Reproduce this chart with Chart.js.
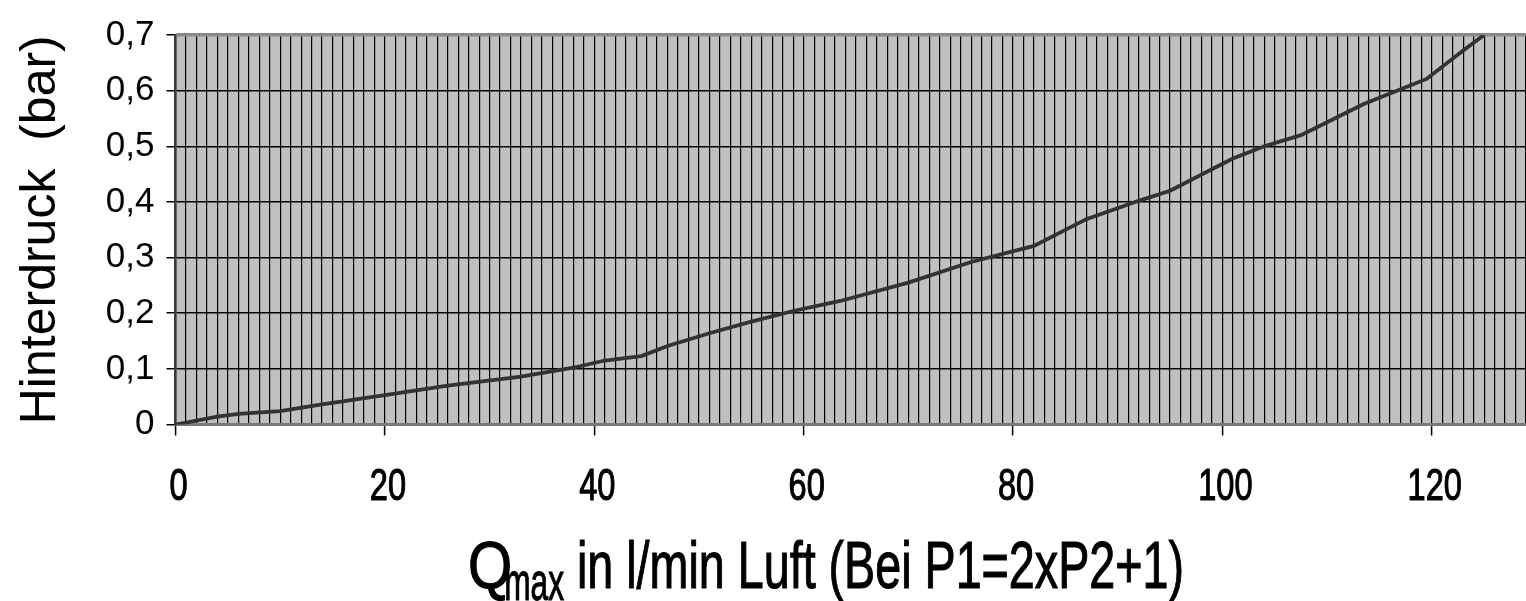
<!DOCTYPE html>
<html>
<head>
<meta charset="utf-8">
<script src="https://cdn.jsdelivr.net/npm/chart.js@4.4.1/dist/chart.umd.min.js"></script>
<style>
  html, body { margin: 0; padding: 0; background: #fff; }
  #wrap { width: 1526px; height: 601px; position: relative; }
</style>
</head>
<body>
<div id="wrap"><canvas id="hinterdruck"></canvas></div>
<script>
// Q max (l/min Luft) vs. Hinterdruck (bar)
const qValues = [0, 4, 6, 10, 14, 20, 26, 33, 38, 41, 44.5, 47, 51, 55, 59, 63.5, 70, 76, 82, 87, 92, 95, 101, 104, 107.5, 113.5, 119.5, 123, 125];
const pressure = [0, 0.014, 0.019, 0.024, 0.036, 0.053, 0.070, 0.086, 0.102, 0.115, 0.123, 0.141, 0.164, 0.185, 0.204, 0.222, 0.255, 0.292, 0.321, 0.369, 0.402, 0.420, 0.478, 0.500, 0.520, 0.576, 0.621, 0.672, 0.700];
const xLabelEvery = 20;
const yTitle = 'Hinterdruck  (bar)';
const xTitleParts = ['Q', 'max', ' in l/min Luft (Bei P1=2xP2+1)'];

const sans = '"Liberation Sans", Arial, sans-serif';

// grey plot background
const plotBg = {
  id: 'plotBg',
  beforeDraw(chart) {
    const { ctx, chartArea: a } = chart;
    ctx.save();
    ctx.fillStyle = '#c0c0c0';
    ctx.fillRect(a.left, a.top, a.right - a.left, a.bottom - a.top);
    ctx.restore();
  }
};

// squeezed text, a bit heavier like the scanned original
function squeezed(ctx, text, size, x, y, sx) {
  ctx.font = `${size}px ${sans}`;
  ctx.save();
  ctx.translate(x, y);
  ctx.scale(sx, 1);
  ctx.fillText(text, 0, 0);
  ctx.lineWidth = 1.1;
  ctx.strokeText(text, 0, 0);
  ctx.restore();
  return ctx.measureText(text).width * sx;
}

// x tick labels
const xLabels = {
  id: 'xLabels',
  afterDraw(chart) {
    const ctx = chart.ctx;
    const xs = chart.scales.x;
    ctx.save();
    ctx.fillStyle = '#000';
    ctx.strokeStyle = '#000';
    ctx.textAlign = 'center';
    ctx.textBaseline = 'alphabetic';
    xs.ticks.forEach(t => {
      if (t.value % xLabelEvery !== 0) return;
      squeezed(ctx, String(t.value), 44, xs.getPixelForValue(t.value) + 3, 500, 0.74);
    });
    ctx.restore();
  }
};

// x title with subscript
const xTitle = {
  id: 'xTitle',
  afterDraw(chart) {
    const ctx = chart.ctx;
    const F = 66;
    const left = 468, right = 1184, base = 588;
    ctx.save();
    ctx.fillStyle = '#000';
    ctx.strokeStyle = '#000';
    ctx.textBaseline = 'alphabetic';
    ctx.textAlign = 'left';
    let x = left;
    x += squeezed(ctx, xTitleParts[0], F, x, base, 0.86);
    x -= 8;
    x += squeezed(ctx, xTitleParts[1], 0.8 * F, x, base + 12, 0.6);
    ctx.font = `${F}px ${sans}`;
    const restW = ctx.measureText(xTitleParts[2]).width;
    squeezed(ctx, xTitleParts[2], F, x, base, (right - x) / restW);
    ctx.restore();
  }
};

new Chart(document.getElementById('hinterdruck'), {
  type: 'line',
  data: {
    datasets: [{
      data: qValues.map((q, i) => ({ x: q, y: pressure[i] })),
      borderColor: '#333333',
      borderWidth: 3.8,
      pointRadius: 0,
      tension: 0,
      fill: false
    }]
  },
  options: {
    responsive: true,
    maintainAspectRatio: false,
    devicePixelRatio: 1,
    animation: false,
    layout: { padding: { top: 35, right: 0, bottom: 0, left: 0 } },
    plugins: {
      legend: { display: false },
      tooltip: { enabled: false }
    },
    scales: {
      x: {
        type: 'linear',
        min: 0,
        max: 129,
        afterFit: s => { s.height = 176.5; s.paddingRight = 0; s.paddingLeft = 0; },
        afterBuildTicks: s => {
          s.ticks = [];
          for (let v = 0; v <= 129; v++) s.ticks.push({ value: v });
        },
        ticks: {
          autoSkip: false,
          maxRotation: 0,
          display: false
        },
        grid: {
          color: '#000',
          lineWidth: 1.2,
          tickLength: 11,
          tickColor: ctx => (ctx.tick && ctx.tick.value % xLabelEvery === 0 ? '#000' : 'rgba(0,0,0,0)'),
          tickWidth: 1.5
        },
        border: { display: true, color: '#7a7a7a', width: 3 }
      },
      y: {
        min: 0,
        max: 0.7,
        afterFit: s => { s.width = 175.5; },
        ticks: {
          stepSize: 0.1,
          padding: 12,
          color: '#000',
          font: { family: sans, size: 35 },
          callback: v => String(Math.round(v * 10) / 10).replace('.', ',')
        },
        grid: {
          color: ctx => (ctx.tick && ctx.tick.value >= 0.7 ? '#8a8a8a' : '#000'),
          lineWidth: ctx => (ctx.tick && ctx.tick.value >= 0.7 ? 3.5 : 1.5),
          tickLength: 9,
          tickColor: '#000',
          tickWidth: 1.5
        },
        border: { display: true, color: '#3a3a3a', width: 2.5 },
        title: {
          display: true,
          text: yTitle,
          color: '#000',
          font: { family: sans, size: 50, lineHeight: 1 },
          padding: { top: 16, bottom: 0 }
        }
      }
    }
  },
  plugins: [plotBg, xLabels, xTitle]
});
</script>
</body>
</html>
